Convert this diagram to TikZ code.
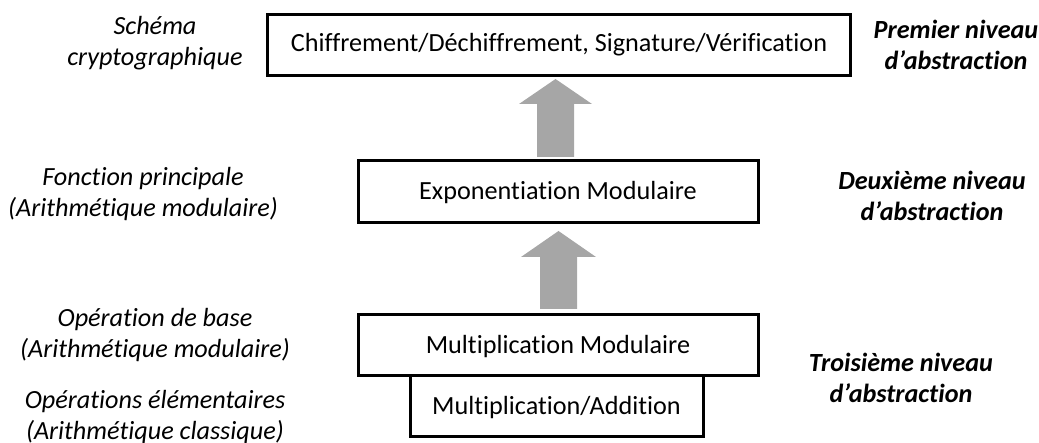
\documentclass[tikz,border=0pt]{standalone}
\usepackage{fontspec}
\setmainfont{Carlito}[RawFeature={-liga;-clig;-dlig}]
\begin{document}
\begin{tikzpicture}[x=1pt,y=-1pt,
  every node/.style={inner sep=0pt, font=\fontsize{26.2}{32}\selectfont},
  level/.style={draw=black, line width=3pt},
  layer/.style={align=center, font=\fontsize{26.2}{31.5}\selectfont\itshape},
  tier/.style={align=center, font=\fontsize{26.2}{31.5}\selectfont\bfseries\itshape},
  uparrow/.style={fill=black!35, draw=none}
]
\useasboundingbox (0,0) rectangle (1039,443);

% boxes of the hierarchy
\draw[level] (267,14.5) rectangle (850,75.5);
\node (schema) at (559,45) {Chiffrement/Déchiffrement, Signature/Vérification};
\draw[level] (358,161) rectangle (758,222.5);
\node (expo) at (558,193) {Exponentiation Modulaire};
\draw[level] (410,376) rectangle (703,437);
\node (muladd) at (556.5,408) {Multiplication/Addition};
\draw[level, fill=white] (358,315) rectangle (758,376);
\node (mulmod) at (558,347) {Multiplication Modulaire};

% block arrows between the levels
\fill[uparrow] (537,157) -- (537,104) -- (519,104) -- (555.5,79) -- (592,104) -- (574,104) -- (574,157) -- cycle;
\fill[uparrow] (540,309) -- (540,257) -- (521,257) -- (558.5,231) -- (596,257) -- (577,257) -- (577,309) -- cycle;

% descriptions on the left
\node[layer] (d1) at (155,43) {Schéma\\cryptographique};
\node[layer] (d2) at (143,194) {Fonction principale\\(Arithmétique modulaire)};
\node[layer] (d3) at (155,335) {Opération de base\\(Arithmétique modulaire)};
\node[layer] (d4) at (155,417) {Opérations élémentaires\\(Arithmétique classique)};

% abstraction levels on the right
\node[tier] (n1) at (956,45) {Premier niveau\\d’abstraction};
\node[tier] (n2) at (932,196) {Deuxième niveau\\d’abstraction};
\node[tier] (n3) at (901,378) {Troisième niveau\\d’abstraction};
\end{tikzpicture}
\end{document}
